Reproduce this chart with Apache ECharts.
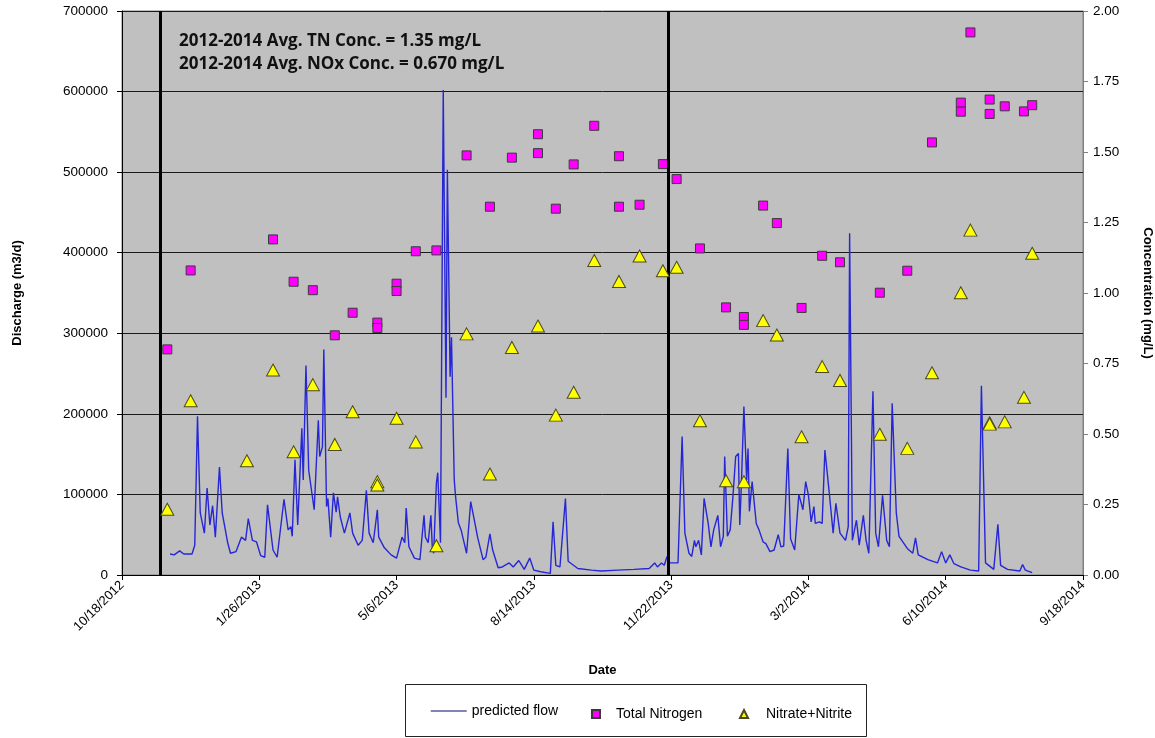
<!DOCTYPE html>
<html>
<head>
<meta charset="utf-8">
<script src="https://cdn.jsdelivr.net/npm/echarts@6/dist/echarts.min.js"></script>
<style>
  html, body { margin: 0; padding: 0; background: #fff; }
  #main { width: 1155px; height: 738px; }
</style>
</head>
<body>
<div id="main"></div>
<script>
var tnDates = ['2012-11-20','2012-12-07','2013-02-05','2013-02-20','2013-03-06','2013-03-22','2013-04-04',
  '2013-04-22','2013-04-22','2013-05-06','2013-05-06','2013-05-20','2013-06-04','2013-06-26','2013-07-13',
  '2013-07-29','2013-08-17','2013-08-17','2013-08-30','2013-09-12','2013-09-27','2013-10-15','2013-10-15',
  '2013-10-30','2013-11-16','2013-11-26','2013-12-13','2014-01-01','2014-01-14','2014-01-14','2014-01-28',
  '2014-02-07','2014-02-25','2014-03-12','2014-03-25','2014-04-23','2014-05-13','2014-05-31','2014-06-21',
  '2014-06-21','2014-06-28','2014-07-12','2014-07-12','2014-07-23','2014-08-06','2014-08-12'];
var tnValues = [0.80,1.08,1.19,1.04,1.01,0.85,0.93,
  0.895,0.876,1.033,1.007,1.148,1.151,1.488,1.306,
  1.48,1.563,1.496,1.299,1.456,1.593,1.485,1.306,
  1.313,1.457,1.404,1.158,0.949,0.915,0.887,1.31,
  1.248,0.947,1.132,1.109,1.001,1.079,1.534,1.675,
  1.643,1.924,1.686,1.635,1.662,1.644,1.666];

var noxDates = ['2012-11-20','2012-12-07','2013-01-17','2013-02-05','2013-02-20','2013-03-06','2013-03-22',
  '2013-04-04','2013-04-22','2013-04-22','2013-05-06','2013-05-20','2013-06-04','2013-06-26','2013-07-13',
  '2013-07-29','2013-08-17','2013-08-30','2013-09-12','2013-09-27','2013-10-15','2013-10-30','2013-11-16',
  '2013-11-26','2013-12-13','2014-01-01','2014-01-14','2014-01-28','2014-02-07','2014-02-25','2014-03-12',
  '2014-03-25','2014-04-23','2014-05-13','2014-05-31','2014-06-21','2014-06-28','2014-07-12','2014-07-12',
  '2014-07-23','2014-08-06','2014-08-12'];
var noxValues = [0.233,0.618,0.405,0.727,0.437,0.675,0.463,
  0.579,0.331,0.319,0.556,0.472,0.104,0.855,0.358,
  0.807,0.883,0.567,0.648,1.115,1.041,1.131,1.079,
  1.091,0.547,0.334,0.331,0.902,0.851,0.49,0.739,
  0.69,0.499,0.449,0.717,1.001,1.223,0.54,0.535,
  0.543,0.63,1.141];

// predicted flow, Excel date serial -> m3/d
var flowDay = [41235,41238,41242,41245,41251,41253,41255,41257,41260,41262,41264,41266,41268,41271,41273,
  41277,41279,41283,41287,41290,41292,41295,41298,41301,41304,41306,41310,41313,41318,41321,41323,41324,
  41326,41328,41329,41331,41332,41334,41336,41340,41343,41344,41346,41347,41349,41350,41352,41354,41356,
  41357,41359,41362,41366,41368,41372,41375,41378,41380,41383,41386,41387,41391,41396,41400,41404,41406,
  41407,41409,41413,41417,41420,41421,41423,41425,41426,41427,41429,41430,41432,41434,41436,41437,41439,
  41440,41442,41443,41445,41447,41451,41454,41457,41459,41463,41465,41468,41470,41474,41477,41482,41485,
  41489,41493,41497,41500,41505,41512,41514,41516,41519,41523,41525,41532,41542,41549,41561,41573,41584,
  41588,41590,41593,41595,41597,41599,41605,41608,41610,41613,41615,41617,41618,41620,41622,41624,41627,
  41629,41631,41634,41636,41638,41639,41641,41643,41645,41647,41649,41650,41651,41653,41655,41656,41657,
  41659,41662,41664,41667,41669,41672,41675,41678,41680,41682,41685,41687,41690,41693,41696,41698,41700,
  41702,41704,41705,41708,41710,41712,41715,41718,41720,41723,41727,41729,41730,41732,41735,41737,41740,
  41742,41744,41747,41749,41751,41754,41757,41759,41761,41764,41766,41772,41776,41778,41780,41787,41794,
  41797,41800,41803,41806,41811,41818,41824,41826,41829,41835,41838,41840,41845,41854,41856,41858,41863];
var flowQ = [26000,25000,30000,26000,26000,37000,197000,77000,52000,108000,62000,86000,47000,134000,77000,
  40000,27000,29000,47000,43000,70000,43000,41000,24000,22000,87000,31000,22000,94000,56000,60000,48000,
  143000,62000,60000,182000,118000,260000,130000,81000,192000,147000,159000,280000,85000,95000,47000,102000,78000,
  97000,72000,52000,77000,52000,37000,43000,105000,52000,40000,81000,47000,34000,25000,21000,47000,40000,
  83000,35000,21000,19000,74000,47000,40000,74000,35000,27000,114000,127000,40000,602000,220000,503000,246000,
  295000,118000,97000,65000,56000,27000,91000,65000,47000,19000,22000,51000,31000,9000,10000,15000,10000,
  18000,7000,21000,6000,4000,2000,66000,12000,10000,95000,17000,8000,6000,5000,6000,7000,8000,
  15000,10000,15000,12000,23000,15000,15000,172000,52000,27000,23000,43000,35000,43000,25000,95000,64000,
  35000,56000,74000,35000,48000,147000,48000,56000,97000,147000,151000,62000,105000,209000,118000,157000,79000,
  116000,64000,56000,41000,39000,29000,31000,50000,35000,36000,157000,45000,31000,100000,81000,116000,99000,
  66000,85000,64000,66000,64000,155000,105000,52000,89000,52000,43000,60000,424000,43000,68000,37000,74000,
  43000,27000,228000,52000,35000,99000,43000,35000,213000,77000,48000,33000,27000,46000,25000,19000,15000,
  29000,15000,25000,14000,10000,6000,5000,235000,15000,7000,63000,12000,7000,5000,13000,6000,3000];

var periodLines = ['2012-11-15', '2013-11-20'];
var notes = ['2012-2014 Avg. TN Conc. = 1.35 mg/L', '2012-2014 Avg. NOx Conc. = 0.670 mg/L'];

// excel style date serials
var BASE = Date.UTC(1899, 11, 30);
function toSerial(s) {
  var p = s.split('-');
  return Math.round((Date.UTC(+p[0], +p[1] - 1, +p[2]) - BASE) / 86400000);
}
function fmtDate(v) {
  var d = new Date(BASE + v * 86400000);
  return (d.getUTCMonth() + 1) + '/' + d.getUTCDate() + '/' + d.getUTCFullYear();
}

var myChart = echarts.init(document.getElementById('main'));
var axisFont = { fontFamily: 'Liberation Sans, Arial, sans-serif', fontSize: 13.5, color: '#000' };
var nameFont = { fontFamily: 'Liberation Sans, Arial, sans-serif', fontSize: 13, fontWeight: 'bold', color: '#000' };
var legendFont = { fontFamily: 'Liberation Sans, Arial, sans-serif', fontSize: 14, color: '#000' };

var option = {
  animation: false,
  backgroundColor: '#fff',
  grid: {
    left: 122, right: 72, top: 11, bottom: 163,
    outerBoundsMode: 'none', containLabel: false,
    show: true, backgroundColor: '#c0c0c0', borderColor: '#808080', borderWidth: 1
  },
  xAxis: {
    type: 'value',
    min: 41200, max: 41900, interval: 100,
    name: 'Date', nameLocation: 'middle', nameGap: 89, nameTextStyle: nameFont,
    axisLine: { lineStyle: { color: '#000' } },
    axisTick: { show: true, length: 5, lineStyle: { color: '#000' } },
    splitLine: { show: false },
    axisLabel: Object.assign({ rotate: 45, margin: 8, formatter: fmtDate }, axisFont, { fontSize: 13 })
  },
  yAxis: [{
    type: 'value', position: 'left',
    min: 0, max: 700000, interval: 100000,
    name: 'Discharge (m3/d)', nameLocation: 'middle', nameGap: 98, nameRotate: 90, nameTextStyle: nameFont,
    axisLine: { show: true, lineStyle: { color: '#000' } },
    axisTick: { show: true, length: 5, lineStyle: { color: '#000' } },
    splitLine: { show: true, lineStyle: { color: '#1a1a1a', width: 1 } },
    axisLabel: Object.assign({ margin: 14, formatter: function (v) { return String(v); } }, axisFont)
  }, {
    type: 'value', position: 'right',
    min: 0, max: 2, interval: 0.25,
    name: 'Concentration (mg/L)', nameLocation: 'middle', nameGap: 58, nameRotate: -90, nameTextStyle: nameFont,
    axisLine: { show: true, lineStyle: { color: '#808080' } },
    axisTick: { show: true, length: 5, lineStyle: { color: '#808080' } },
    splitLine: { show: false },
    axisLabel: Object.assign({ margin: 10, formatter: function (v) { return v.toFixed(2); } }, axisFont)
  }],
  legend: [{
    left: 430, top: 704, padding: 0, itemWidth: 36, itemHeight: 14, selectedMode: false,
    data: ['predicted flow'], textStyle: legendFont,
    itemStyle: { opacity: 0 },
    lineStyle: { color: '#5a5aa0', width: 1.5, opacity: 1 }
  }, {
    left: 591, top: 707, padding: 0, itemWidth: 8, itemHeight: 8, selectedMode: false,
    data: ['Total Nitrogen'], textStyle: Object.assign({ padding: [0, 0, 0, 11] }, legendFont)
  }, {
    left: 739, top: 707, padding: 0, itemWidth: 8, itemHeight: 8, selectedMode: false,
    data: ['Nitrate+Nitrite'], textStyle: Object.assign({ padding: [0, 0, 0, 13] }, legendFont)
  }],
  graphic: [{
    type: 'rect', left: 405, top: 684, z: -1,
    shape: { width: 461, height: 52 },
    style: { fill: '#fff', stroke: '#222', lineWidth: 1 }
  }, {
    type: 'text', left: 179, top: 33, z: 10,
    style: { text: notes[0], font: 'bold 17px "Open Sans", sans-serif', fill: '#111' }
  }, {
    type: 'text', left: 179, top: 56, z: 10,
    style: { text: notes[1], font: 'bold 17px "Open Sans", sans-serif', fill: '#111' }
  }],
  series: [{
    name: 'predicted flow',
    type: 'line',
    yAxisIndex: 0,
    symbol: 'none',
    data: flowDay.map(function (d, i) { return [d, flowQ[i]]; }),
    lineStyle: { color: '#2626d6', width: 1.4 },
    itemStyle: { color: '#2626d6' },
    z: 2,
    markLine: {
      silent: true,
      symbol: ['none', 'none'],
      label: { show: false },
      lineStyle: { color: '#000', width: 3, type: 'solid' },
      data: periodLines.map(function (s) { return { xAxis: toSerial(s) }; })
    }
  }, {
    name: 'Total Nitrogen',
    type: 'scatter',
    yAxisIndex: 1,
    symbol: 'rect',
    symbolSize: 9,
    data: tnDates.map(function (s, i) { return [toSerial(s), tnValues[i]]; }),
    itemStyle: { color: '#ff00ff', borderColor: '#3a3a3a', borderWidth: 1, opacity: 1 },
    z: 4
  }, {
    name: 'Nitrate+Nitrite',
    type: 'scatter',
    yAxisIndex: 1,
    symbol: 'triangle',
    symbolSize: [13, 12],
    data: noxDates.map(function (s, i) { return [toSerial(s), noxValues[i]]; }),
    itemStyle: { color: '#ffff00', borderColor: '#4a4a22', borderWidth: 1, opacity: 1 },
    z: 5
  }]
};
myChart.setOption(option);
</script>
</body>
</html>
